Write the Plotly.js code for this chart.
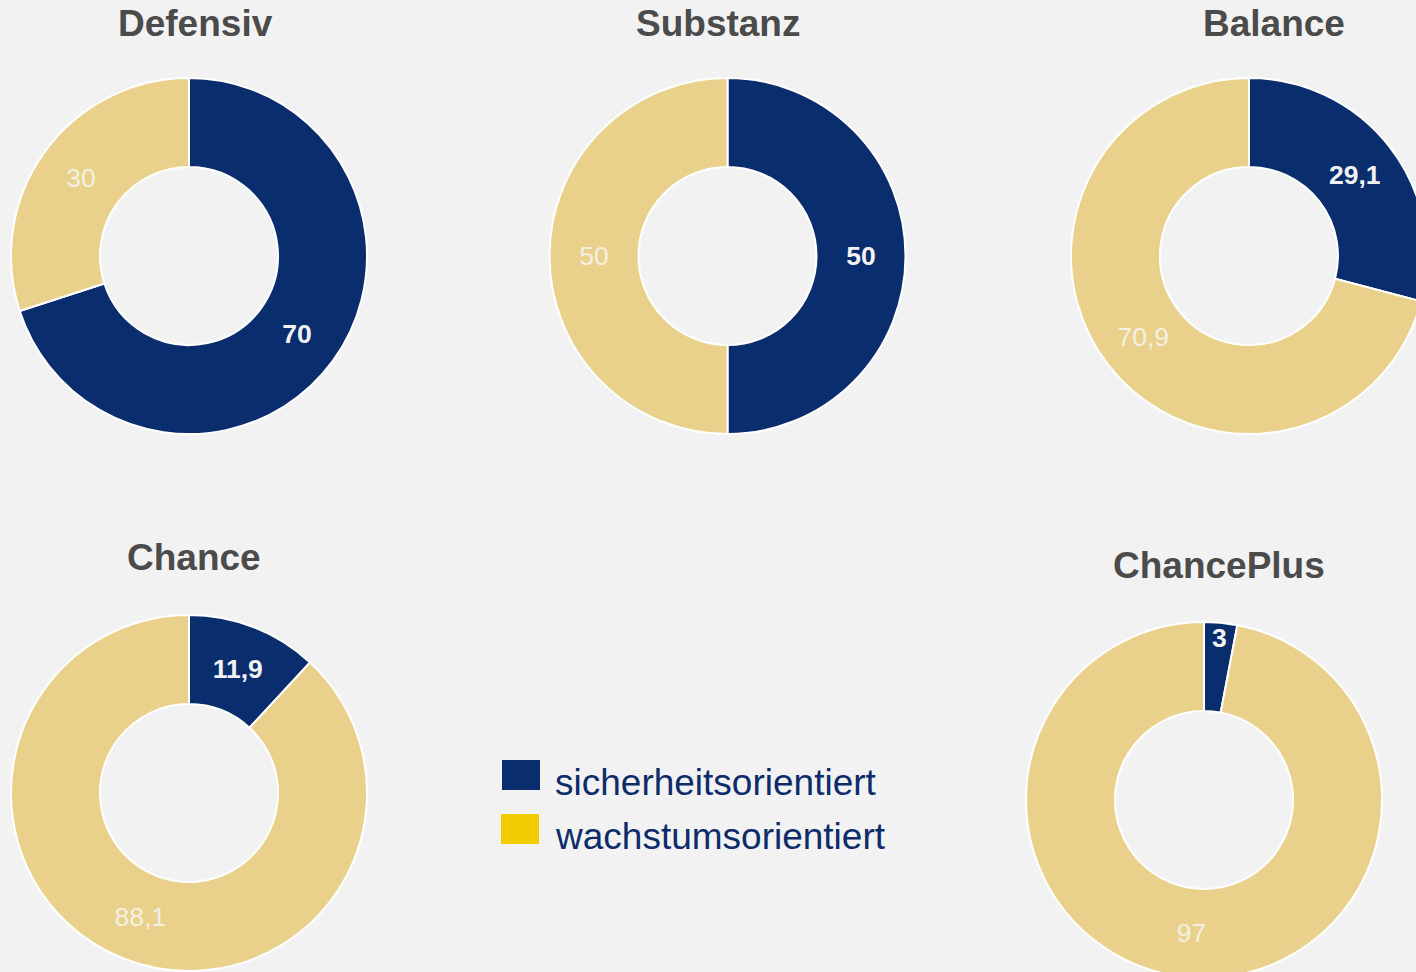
<!DOCTYPE html>
<html>
<head>
<meta charset="utf-8">
<script src="https://cdn.plot.ly/plotly-3.0.1.min.js"></script>
<style>
html,body{margin:0;padding:0;background:#f2f2f2;overflow:hidden;width:1416px;height:972px;}
#chart{width:1440px;height:1000px;}
</style>
</head>
<body>
<div id="chart"></div>
<script>
// ---- data ----
const seriesNames = ["sicherheitsorientiert", "wachstumsorientiert"];
const portfolios = ["Defensiv", "Substanz", "Balance", "Chance", "ChancePlus"];
const sicherheitsorientiert = [70, 50, 29.1, 11.9, 3];
const wachstumsorientiert = [30, 50, 70.9, 88.1, 97];

// ---- layout / style ----
const W = 1440, H = 1000, R = 178;
const centers = [[189, 256], [727.5, 256], [1249, 256], [189, 793], [1204, 800]];
const titlePos = [[195, 23], [718, 23], [1274, 23], [194, 557], [1219, 565]];
const BLUE = "#0a2d6e", TAN = "#e9d18b", LEG_YELLOW = "#f2cb00";

const fmt = v => String(v).replace(".", ",");

const traces = portfolios.map((name, i) => {
  const [cx, cy] = centers[i];
  const vals = [sicherheitsorientiert[i], wachstumsorientiert[i]];
  return {
    type: "pie",
    name: name,
    labels: seriesNames,
    values: vals,
    text: vals.map(fmt),
    texttemplate: ["<b>%{text}</b>", "%{text}"],
    textposition: "inside",
    insidetextorientation: "horizontal",
    textfont: {family: "Liberation Sans, Arial, sans-serif", size: 26.5, color: ["#f2f2f2", "#f4f0e4"]},
    hole: 0.5,
    sort: false,
    direction: "clockwise",
    rotation: 0,
    marker: {colors: [BLUE, TAN], line: {color: "#ffffff", width: 2}},
    showlegend: false,
    hoverinfo: "skip",
    domain: {
      x: [(cx - R) / W, (cx + R) / W],
      y: [1 - (cy + R) / H, 1 - (cy - R) / H]
    }
  };
});

const annotations = portfolios.map((name, i) => ({
  text: "<b>" + name + "</b>",
  x: titlePos[i][0] / W, y: 1 - titlePos[i][1] / H,
  xref: "paper", yref: "paper", xanchor: "center", yanchor: "middle",
  showarrow: false,
  font: {family: "Liberation Sans, Arial, sans-serif", size: 37, color: "#4b4b4b"}
}));

const legendColors = [BLUE, LEG_YELLOW];
const legendBoxes = [[502, 760, 540, 790], [501, 814, 539, 844]];
const legendText = [[553, 782], [553, 836]];
const shapes = [];
seriesNames.forEach((s, i) => {
  const b = legendBoxes[i];
  shapes.push({type: "rect", xref: "paper", yref: "paper",
    x0: b[0] / W, x1: b[2] / W, y0: 1 - b[3] / H, y1: 1 - b[1] / H,
    fillcolor: legendColors[i], line: {width: 0}});
  annotations.push({text: s, x: legendText[i][0] / W, y: 1 - legendText[i][1] / H,
    xref: "paper", yref: "paper", xanchor: "left", yanchor: "middle", showarrow: false,
    font: {family: "Liberation Sans, Arial, sans-serif", size: 37, color: "#0d2c69"}});
});

const layout = {
  width: W, height: H,
  margin: {l: 0, r: 0, t: 0, b: 0, pad: 0},
  paper_bgcolor: "#f2f2f2",
  plot_bgcolor: "#f2f2f2",
  showlegend: false,
  uniformtext: {mode: "show", minsize: 26.5},
  annotations: annotations,
  shapes: shapes
};

Plotly.newPlot("chart", traces, layout, {displayModeBar: false, staticPlot: true});
</script>
</body>
</html>
